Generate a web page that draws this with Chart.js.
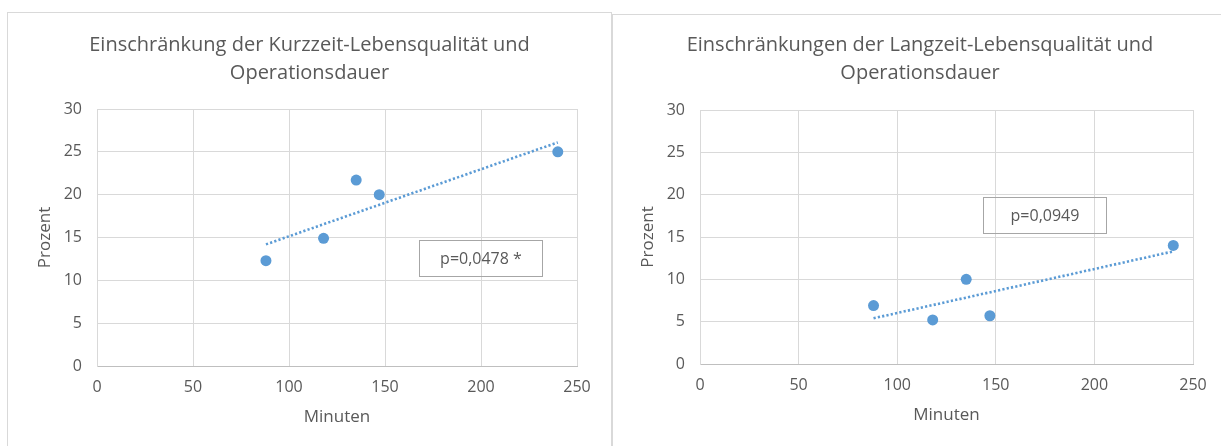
<!DOCTYPE html>
<html lang="de">
<head>
<meta charset="utf-8">
<title>Lebensqualität und Operationsdauer</title>
<script src="https://cdn.jsdelivr.net/npm/chart.js@4.4.0/dist/chart.umd.min.js"></script>
<style>
  html, body { margin: 0; padding: 0; background: #fff; overflow: hidden; }
  body { position: relative; width: 1221px; height: 446px; font-family: "Open Sans", sans-serif; }
  .panel { position: absolute; box-sizing: border-box; border: 1px solid #d9d9d9; border-bottom: none; }
  #panelKurz { left: 7px; top: 12px; width: 605px; height: 440px; }
  #panelLang { left: 612px; top: 14px; width: 616px; height: 440px; border-right: none; }
  canvas { position: absolute; }
  #chartKurz { left: 7px; top: 12px; }
  #chartLang { left: 612px; top: 14px; }
  .pwert {
    position: absolute; box-sizing: border-box; width: 124px; height: 37px;
    border: 1px solid #a6a6a6; color: #595959; font-size: 16px;
    line-height: 35px; text-align: center;
  }
  #pKurz { left: 419px; top: 240px; }
  #pLang { left: 983px; top: 197px; }
</style>
</head>
<body>
<div class="panel" id="panelKurz"></div>
<div class="panel" id="panelLang"></div>
<canvas id="chartKurz" width="605" height="434"></canvas>
<canvas id="chartLang" width="616" height="432"></canvas>
<div class="pwert" id="pKurz">p=0,0478 *</div>
<div class="pwert" id="pLang">p=0,0949</div>

<script>
// Operationsdauer in Minuten (x) und Einschränkung in Prozent (y)
const minuten = [88, 118, 135, 147, 240];
const kurzzeit = [12.3, 14.9, 21.7, 20.0, 25.0];
const langzeit = [6.9, 5.2, 10.0, 5.7, 14.0];

// lineare Trendlinien, Anfangs- und Endpunkt
const trendMinuten = [88, 240];
const trendKurzzeit = [14.2, 26.1];
const trendLangzeit = [5.4, 13.3];

const xTicks = [0, 50, 100, 150, 200, 250];
const yTicks = [0, 5, 10, 15, 20, 25, 30];

const textFarbe = '#595959';
const gitterFarbe = '#d9d9d9';
const punktFarbe = '#5b9bd5';
const schrift = '"Open Sans", sans-serif';

function zeichneDiagramm(canvasId, titel, werte, trend, lay) {
    const ctx = document.getElementById(canvasId).getContext('2d');

    return new Chart(ctx, {
        type: 'scatter',
        data: {
            datasets: [{
                label: 'Prozent',
                data: minuten.map((m, i) => ({ x: m, y: werte[i] })),
                backgroundColor: punktFarbe,
                borderWidth: 0,
                pointRadius: 5.5,
                pointHoverRadius: 5.5
            }, {
                type: 'line',
                label: 'Trend',
                data: trendMinuten.map((m, i) => ({ x: m, y: trend[i] })),
                borderColor: punktFarbe,
                borderWidth: 2.6,
                borderDash: [2.2, 2.2],
                pointRadius: 0,
                fill: false
            }]
        },
        options: {
            responsive: false,
            animation: false,
            devicePixelRatio: 1,
            // gleicher Rand links und rechts, damit der Titel mittig sitzt
            layout: { padding: { left: 35, right: 35, top: lay.top, bottom: 0 } },
            plugins: {
                legend: { display: false },
                tooltip: { enabled: false },
                title: {
                    display: true,
                    text: titel,
                    color: textFarbe,
                    font: { family: schrift, size: 20, weight: 'normal', lineHeight: 1.4 },
                    padding: { top: 0, bottom: lay.titelAbstand }
                }
            },
            scales: {
                x: {
                    type: 'linear',
                    min: xTicks[0],
                    max: xTicks[xTicks.length - 1],
                    afterBuildTicks: (s) => { s.ticks = xTicks.map(v => ({ value: v })); },
                    afterFit: (s) => { s.height = lay.xHoehe; },
                    ticks: { color: textFarbe, font: { family: schrift, size: 16 }, padding: 12 },
                    grid: { color: gitterFarbe, drawTicks: false },
                    border: { color: '#bfbfbf' },
                    title: {
                        display: true,
                        text: 'Minuten',
                        color: textFarbe,
                        font: { family: schrift, size: 17 },
                        padding: { top: 0, bottom: lay.xTitel }
                    }
                },
                y: {
                    type: 'linear',
                    min: yTicks[0],
                    max: yTicks[yTicks.length - 1],
                    afterBuildTicks: (s) => { s.ticks = yTicks.map(v => ({ value: v })); },
                    afterFit: (s) => { s.width = lay.yBreite; },
                    ticks: { color: textFarbe, font: { family: schrift, size: 16 }, padding: 15 },
                    grid: { color: gitterFarbe, drawTicks: false },
                    border: { color: gitterFarbe },
                    title: {
                        display: true,
                        text: 'Prozent',
                        color: textFarbe,
                        font: { family: schrift, size: 17 },
                        padding: { top: lay.yTitel, bottom: 0 }
                    }
                }
            }
        }
    });
}

zeichneDiagramm('chartKurz',
    ['Einschränkung der Kurzzeit-Lebensqualität und', 'Operationsdauer'],
    kurzzeit, trendKurzzeit,
    { top: 19, titelAbstand: 22, xHoehe: 80, yBreite: 55, xTitel: 18.8, yTitel: -7.2 });

zeichneDiagramm('chartLang',
    ['Einschränkungen der Langzeit-Lebensqualität und', 'Operationsdauer'],
    langzeit, trendLangzeit,
    { top: 17, titelAbstand: 23, xHoehe: 82, yBreite: 53, xTitel: 20.8, yTitel: -9.2 });
</script>
</body>
</html>
